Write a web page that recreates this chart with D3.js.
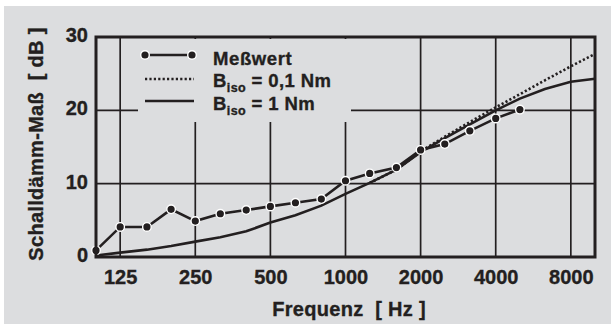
<!DOCTYPE html>
<html>
<head>
<meta charset="utf-8">
<script src="https://cdn.jsdelivr.net/npm/d3@7"></script>
<style>
  body { margin: 0; background: #fff; }
  svg { display: block; }
  text { font-family: "Liberation Sans", Arial, sans-serif; font-weight: bold; fill: #231f20; white-space: pre; stroke: #231f20; stroke-width: 0.35px; }
</style>
</head>
<body>
<svg id="chart" width="611" height="329"></svg>
<script>
// third-octave frequencies of the measurement
var messFreq = [100, 125, 160, 200, 250, 315, 400, 500, 630, 800, 1000, 1250, 1600, 2000, 2500, 3150, 4000, 5000];
var messwert = [0.9, 4.1, 4.1, 6.5, 4.9, 5.9, 6.4, 6.9, 7.4, 7.9, 10.4, 11.4, 12.2, 14.6, 15.4, 17.2, 18.9, 20.1];

// calculated curve, B_iso = 1 Nm
var calcFreq = [100, 125, 160, 200, 250, 315, 400, 500, 630, 800, 1000, 1250, 1600, 2000, 2500, 3150, 4000, 5000, 6300, 8000, 10000];
var biso1 = [0.2, 0.6, 1.0, 1.5, 2.1, 2.7, 3.5, 4.7, 5.7, 7.0, 8.6, 10.1, 11.9, 14.3, 16.2, 18.1, 20.0, 21.6, 22.9, 23.9, 24.3];

// calculated curve, B_iso = 0,1 Nm (only differs above ~1600 Hz)
var dotFreq = [1250, 1600, 2000, 2500, 3150, 4000, 5000, 6300, 8000, 10000];
var biso01 = [10.1, 11.9, 14.4, 16.4, 18.4, 20.4, 22.2, 24.1, 26.0, 27.7];

var xTicks = [125, 250, 500, 1000, 2000, 4000, 8000];
var yTicks = [0, 10, 20, 30];

var ink = "#231f20";
var svg = d3.select("#chart");

// background panel
svg.append("rect")
	.attr("x", 4).attr("y", 6)
	.attr("width", 607).attr("height", 318)
	.attr("fill", "#dcdddf");

var x = d3.scaleLog().domain([100, 10000]).range([96, 595]);
var y = d3.scaleLinear().domain([0, 30]).range([257, 37]);

// grid
var grid = svg.append("g").attr("stroke", ink).attr("stroke-width", 1.7);
grid.selectAll("line.v")
	.data(xTicks)
	.enter()
	.append("line")
	.attr("x1", function (d){return x(d);})
	.attr("x2", function (d){return x(d);})
	.attr("y1", y(30))
	.attr("y2", y(0));
grid.selectAll("line.h")
	.data([10, 20])
	.enter()
	.append("line")
	.attr("x1", x(100))
	.attr("x2", x(10000))
	.attr("y1", function (d){return y(d);})
	.attr("y2", function (d){return y(d);});

// legend box hides the grid behind it
svg.append("rect")
	.attr("x", 138).attr("y", 39)
	.attr("width", 213).attr("height", 83)
	.attr("fill", "#dcdddf");

// tick labels via d3 axes
var xAxis = svg.append("g")
	.attr("transform", "translate(0," + y(0) + ")")
	.call(d3.axisBottom(x).tickValues(xTicks).tickSize(0).tickPadding(10).tickFormat(d3.format("d")));
var yAxis = svg.append("g")
	.attr("transform", "translate(" + x(100) + ",0)")
	.call(d3.axisLeft(y).tickValues(yTicks).tickSize(0).tickPadding(8).tickFormat(d3.format("d")));
[xAxis, yAxis].forEach(function (a){
	a.select(".domain").remove();
	a.selectAll("text")
		.attr("font-family", "Liberation Sans, Arial, sans-serif")
		.attr("font-weight", "bold")
		.attr("font-size", 20)
		.attr("fill", ink);
});
yAxis.selectAll("text").attr("dy", "0.22em");
xAxis.selectAll("text").attr("dy", "0.85em");

// curves
var line = d3.line()
	.x(function (d){return x(d[0]);})
	.y(function (d){return y(d[1]);});

svg.append("path")
	.datum(dotFreq.map(function (f, i){return [f, biso01[i]];}))
	.attr("d", line)
	.attr("fill", "none")
	.attr("stroke", ink)
	.attr("stroke-width", 2.6)
	.attr("stroke-dasharray", "2.2,2.2");

svg.append("path")
	.datum(calcFreq.map(function (f, i){return [f, biso1[i]];}))
	.attr("d", line)
	.attr("fill", "none")
	.attr("stroke", ink)
	.attr("stroke-width", 2.6);

var mess = messFreq.map(function (f, i){return [f, messwert[i]];});
svg.append("path")
	.datum(mess)
	.attr("d", line)
	.attr("fill", "none")
	.attr("stroke", ink)
	.attr("stroke-width", 2.6);
svg.append("g")
	.selectAll("circle")
	.data(mess)
	.enter()
	.append("circle")
	.attr("cx", function (d){return x(d[0]);})
	.attr("cy", function (d){return y(d[1]);})
	.attr("r", 4.3)
	.attr("fill", ink)
	.attr("stroke", "#fff")
	.attr("stroke-width", 1.4);

// frame
svg.append("rect")
	.attr("x", x(100)).attr("y", y(30))
	.attr("width", x(10000) - x(100)).attr("height", y(0) - y(30))
	.attr("fill", "none")
	.attr("stroke", ink)
	.attr("stroke-width", 3);

//===============================================
// Legend
//===============================================
var lg = svg.append("g");
lg.append("line").attr("x1", 145).attr("x2", 192).attr("y1", 55).attr("y2", 55)
	.attr("stroke", ink).attr("stroke-width", 2.6);
lg.selectAll("circle").data([145, 192]).enter().append("circle")
	.attr("cx", function (d){return d;}).attr("cy", 55).attr("r", 4.3)
	.attr("fill", ink).attr("stroke", "#fff").attr("stroke-width", 1.4);
lg.append("line").attr("x1", 145).attr("x2", 194).attr("y1", 79).attr("y2", 79)
	.attr("stroke", ink).attr("stroke-width", 2.6).attr("stroke-dasharray", "2.2,2.2");
lg.append("line").attr("x1", 145).attr("x2", 194).attr("y1", 101).attr("y2", 101)
	.attr("stroke", ink).attr("stroke-width", 2.6);

lg.append("text").attr("x", 213).attr("y", 65).attr("font-size", 18.5)
	.attr("letter-spacing", 0.6).text("Meßwert");
var labels = [["0,1 Nm", 87], ["1 Nm", 110]];
labels.forEach(function (l){
	var t = lg.append("text").attr("x", 213).attr("y", l[1]).attr("font-size", 18.5).attr("letter-spacing", 0.4);
	t.append("tspan").text("B");
	t.append("tspan").attr("font-size", 12.5).attr("dy", 5).text("iso");
	t.append("tspan").attr("dy", -5).text(" = " + l[0]);
});

// axis titles
svg.append("text")
	.attr("x", 349).attr("y", 316)
	.attr("text-anchor", "middle")
	.attr("font-size", 20)
	.attr("letter-spacing", 0.3)
	.text("Frequenz  [ Hz ]");
svg.append("text")
	.attr("transform", "translate(43,144) rotate(-90)")
	.attr("text-anchor", "middle")
	.attr("font-size", 20)
	.attr("letter-spacing", 0.3)
	.text("Schalldämm-Maß  [ dB ]");
</script>
</body>
</html>
